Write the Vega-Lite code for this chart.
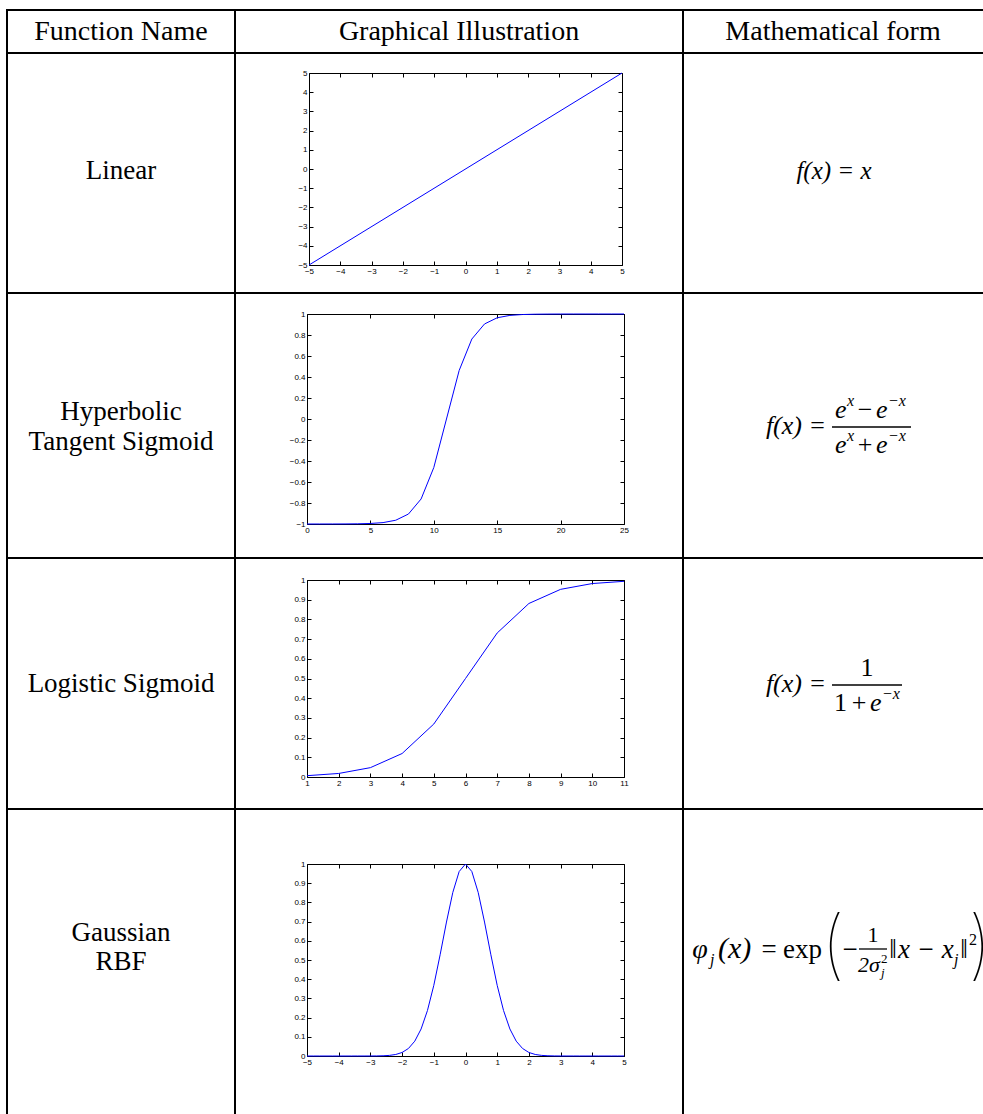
{
  "$schema": "https://vega.github.io/schema/vega-lite/v6.json",
  "padding": {"left": 6, "top": 9, "right": 0, "bottom": 0},
  "background": "white",
  "spacing": 0,
  "bounds": "flush",
  "columns": 3,
  "datasets": {
    "linear": [{"x": -5, "y": -5}, {"x": 5, "y": 5}],
    "tanh": [
      {"x": 0, "y": -0.99997}, {"x": 1, "y": -0.99991}, {"x": 2, "y": -0.99975}, {"x": 3, "y": -0.99933},
      {"x": 4, "y": -0.99818}, {"x": 5, "y": -0.99505}, {"x": 6, "y": -0.98661}, {"x": 7, "y": -0.96403},
      {"x": 8, "y": -0.90515}, {"x": 9, "y": -0.76159}, {"x": 10, "y": -0.46212}, {"x": 11, "y": 0},
      {"x": 12, "y": 0.46212}, {"x": 13, "y": 0.76159}, {"x": 14, "y": 0.90515}, {"x": 15, "y": 0.96403},
      {"x": 16, "y": 0.98661}, {"x": 17, "y": 0.99505}, {"x": 18, "y": 0.99818}, {"x": 19, "y": 0.99933},
      {"x": 20, "y": 0.99975}, {"x": 21, "y": 0.99991}, {"x": 22, "y": 0.99997}, {"x": 23, "y": 0.99999},
      {"x": 24, "y": 1}, {"x": 25, "y": 1}
    ],
    "logistic": [
      {"x": 1, "y": 0.00669}, {"x": 2, "y": 0.01799}, {"x": 3, "y": 0.04743}, {"x": 4, "y": 0.1192},
      {"x": 5, "y": 0.26894}, {"x": 6, "y": 0.5}, {"x": 7, "y": 0.73106}, {"x": 8, "y": 0.8808},
      {"x": 9, "y": 0.95257}, {"x": 10, "y": 0.98201}, {"x": 11, "y": 0.99331}
    ],
    "gaussian": [
      {"x": -5, "y": 0}, {"x": -4.8, "y": 0}, {"x": -4.6, "y": 0}, {"x": -4.4, "y": 0}, {"x": -4.2, "y": 0},
      {"x": -4, "y": 0.0000001}, {"x": -3.8, "y": 0.0000005}, {"x": -3.6, "y": 0.0000024}, {"x": -3.4, "y": 0.0000096},
      {"x": -3.2, "y": 0.0000357}, {"x": -3, "y": 0.0001234}, {"x": -2.8, "y": 0.0003937}, {"x": -2.6, "y": 0.0011592},
      {"x": -2.4, "y": 0.0031511}, {"x": -2.2, "y": 0.0079071}, {"x": -2, "y": 0.0183156}, {"x": -1.8, "y": 0.0391639},
      {"x": -1.6, "y": 0.0773047}, {"x": -1.4, "y": 0.1408584}, {"x": -1.2, "y": 0.2369278}, {"x": -1, "y": 0.3678794},
      {"x": -0.8, "y": 0.5272924}, {"x": -0.6, "y": 0.6976763}, {"x": -0.4, "y": 0.8521438}, {"x": -0.2, "y": 0.9607894},
      {"x": 0, "y": 1},
      {"x": 0.2, "y": 0.9607894}, {"x": 0.4, "y": 0.8521438}, {"x": 0.6, "y": 0.6976763}, {"x": 0.8, "y": 0.5272924},
      {"x": 1, "y": 0.3678794}, {"x": 1.2, "y": 0.2369278}, {"x": 1.4, "y": 0.1408584}, {"x": 1.6, "y": 0.0773047},
      {"x": 1.8, "y": 0.0391639}, {"x": 2, "y": 0.0183156}, {"x": 2.2, "y": 0.0079071}, {"x": 2.4, "y": 0.0031511},
      {"x": 2.6, "y": 0.0011592}, {"x": 2.8, "y": 0.0003937}, {"x": 3, "y": 0.0001234}, {"x": 3.2, "y": 0.0000357},
      {"x": 3.4, "y": 0.0000096}, {"x": 3.6, "y": 0.0000024}, {"x": 3.8, "y": 0.0000005}, {"x": 4, "y": 0.0000001},
      {"x": 4.2, "y": 0}, {"x": 4.4, "y": 0}, {"x": 4.6, "y": 0}, {"x": 4.8, "y": 0}, {"x": 5, "y": 0}
    ]
  },
  "concat": [
    {"width": 228, "height": 43, "data": {"values": [{"t": "Function Name"}]},
     "mark": {"type": "text", "baseline": "middle", "fontSize": 28},
     "encoding": {"text": {"field": "t"},
       "x": {"datum": 114, "type": "quantitative", "scale": {"domain": [0, 228], "nice": false, "zero": false}, "axis": null},
       "y": {"datum": 22, "type": "quantitative", "scale": {"domain": [43, 0], "nice": false, "zero": false}, "axis": null}}},
    {"width": 448, "height": 43, "data": {"values": [{"t": "Graphical Illustration"}]},
     "mark": {"type": "text", "baseline": "middle", "fontSize": 28},
     "encoding": {"text": {"field": "t"},
       "x": {"datum": 224, "type": "quantitative", "scale": {"domain": [0, 448], "nice": false, "zero": false}, "axis": null},
       "y": {"datum": 22, "type": "quantitative", "scale": {"domain": [43, 0], "nice": false, "zero": false}, "axis": null}}},
    {"width": 320, "height": 43, "data": {"values": [{"t": "Mathematical form"}]},
     "mark": {"type": "text", "baseline": "middle", "fontSize": 28},
     "encoding": {"text": {"field": "t"},
       "x": {"datum": 150, "type": "quantitative", "scale": {"domain": [0, 320], "nice": false, "zero": false}, "axis": null},
       "y": {"datum": 22, "type": "quantitative", "scale": {"domain": [43, 0], "nice": false, "zero": false}, "axis": null}}},

    {"width": 228, "height": 240, "data": {"values": [{"t": "Linear"}]},
     "mark": {"type": "text", "baseline": "middle", "fontSize": 27},
     "encoding": {"text": {"field": "t"},
       "x": {"datum": 114, "type": "quantitative", "scale": {"domain": [0, 228], "nice": false, "zero": false}, "axis": null},
       "y": {"datum": 118, "type": "quantitative", "scale": {"domain": [240, 0], "nice": false, "zero": false}, "axis": null}}},
    {"width": 448, "height": 240, "data": {"name": "linear"},
     "layer": [
       {"mark": {"type": "line", "color": "#0000ff", "strokeWidth": 1},
        "encoding": {
          "x": {"field": "x", "type": "quantitative", "scale": {"domain": [-5, 5], "range": [74, 387], "nice": false, "zero": false},
                "axis": {"orient": "bottom", "offset": -28, "title": null, "format": "~g", "values": [-5, -4, -3, -2, -1, 0, 1, 2, 3, 4, 5]}},
          "y": {"field": "y", "type": "quantitative", "scale": {"domain": [-5, 5], "range": [212, 20], "nice": false, "zero": false},
                "axis": {"orient": "left", "offset": -74, "title": null, "format": "~g", "values": [-5, -4, -3, -2, -1, 0, 1, 2, 3, 4, 5]}}}},
       {"mark": {"type": "line", "opacity": 0},
        "encoding": {
          "x": {"field": "x", "type": "quantitative", "scale": {"domain": [-5, 5], "range": [74, 387], "nice": false, "zero": false},
                "axis": {"orient": "top", "offset": -20, "title": null, "labels": false, "values": [-5, -4, -3, -2, -1, 0, 1, 2, 3, 4, 5]}},
          "y": {"field": "y", "type": "quantitative", "scale": {"domain": [-5, 5], "range": [212, 20], "nice": false, "zero": false},
                "axis": {"orient": "right", "offset": -61, "title": null, "labels": false, "values": [-5, -4, -3, -2, -1, 0, 1, 2, 3, 4, 5]}}}}
     ],
     "resolve": {"axis": {"x": "independent", "y": "independent"}}},
    {"width": 320, "height": 240, "data": {"values": [{"f": "linear"}]},
     "layer": [
       {"mark": {"type": "text", "text": "f(x) = x", "fontStyle": "italic", "fontSize": 25},
        "encoding": {
          "x": {"datum": 151, "type": "quantitative", "scale": {"domain": [0, 320], "nice": false, "zero": false}, "axis": null},
          "y": {"datum": 126, "type": "quantitative", "scale": {"domain": [240, 0], "nice": false, "zero": false}, "axis": null}}}
     ]},

    {"width": 228, "height": 265, "data": {"values": [{"t": "Hyperbolic\nTangent Sigmoid"}]},
     "mark": {"type": "text", "baseline": "middle", "fontSize": 27, "lineBreak": "\n", "lineHeight": 30},
     "encoding": {"text": {"field": "t"},
       "x": {"datum": 114, "type": "quantitative", "scale": {"domain": [0, 228], "nice": false, "zero": false}, "axis": null},
       "y": {"datum": 119, "type": "quantitative", "scale": {"domain": [265, 0], "nice": false, "zero": false}, "axis": null}}},
    {"width": 448, "height": 265, "data": {"name": "tanh"},
     "layer": [
       {"mark": {"type": "line", "color": "#0000ff", "strokeWidth": 1},
        "encoding": {
          "x": {"field": "x", "type": "quantitative", "scale": {"domain": [0, 25], "range": [72, 389], "nice": false, "zero": false},
                "axis": {"orient": "bottom", "offset": -34, "title": null, "format": "~g", "values": [0, 5, 10, 15, 20, 25]}},
          "y": {"field": "y", "type": "quantitative", "scale": {"domain": [-1, 1], "range": [231, 21], "nice": false, "zero": false},
                "axis": {"orient": "left", "offset": -72, "title": null, "format": "~g", "values": [-1, -0.8, -0.6, -0.4, -0.2, 0, 0.2, 0.4, 0.6, 0.8, 1]}}}},
       {"mark": {"type": "line", "opacity": 0},
        "encoding": {
          "x": {"field": "x", "type": "quantitative", "scale": {"domain": [0, 25], "range": [72, 389], "nice": false, "zero": false},
                "axis": {"orient": "top", "offset": -21, "title": null, "labels": false, "values": [0, 5, 10, 15, 20, 25]}},
          "y": {"field": "y", "type": "quantitative", "scale": {"domain": [-1, 1], "range": [231, 21], "nice": false, "zero": false},
                "axis": {"orient": "right", "offset": -59, "title": null, "labels": false, "values": [-1, -0.8, -0.6, -0.4, -0.2, 0, 0.2, 0.4, 0.6, 0.8, 1]}}}}
     ],
     "resolve": {"axis": {"x": "independent", "y": "independent"}}},
    {"width": 320, "height": 265, "data": {"values": [{"f": "tanh"}]},
     "encoding": {
       "x": {"datum": 0, "type": "quantitative", "scale": {"domain": [0, 320], "nice": false, "zero": false}, "axis": null}
     },
     "layer": [
       {"mark": {"type": "text", "text": "f(x) =", "fontStyle": "italic", "fontSize": 26, "align": "right"},
        "encoding": {"x": {"datum": 143, "type": "quantitative", "axis": null}, "y": {"datum": 141, "type": "quantitative", "scale": {"domain": [265, 0], "nice": false, "zero": false}, "axis": null}}},
       {"mark": {"type": "text", "text": "e", "fontStyle": "italic", "fontSize": 26, "align": "left"},
        "encoding": {"x": {"datum": 152, "type": "quantitative", "axis": null}, "y": {"datum": 125, "type": "quantitative", "axis": null}}},
       {"mark": {"type": "text", "text": "x", "fontStyle": "italic", "fontSize": 16, "align": "left"},
        "encoding": {"x": {"datum": 164, "type": "quantitative", "axis": null}, "y": {"datum": 113, "type": "quantitative", "axis": null}}},
       {"mark": {"type": "text", "text": "−", "fontSize": 26, "align": "center"},
        "encoding": {"x": {"datum": 182, "type": "quantitative", "axis": null}, "y": {"datum": 125, "type": "quantitative", "axis": null}}},
       {"mark": {"type": "text", "text": "e", "fontStyle": "italic", "fontSize": 26, "align": "left"},
        "encoding": {"x": {"datum": 193, "type": "quantitative", "axis": null}, "y": {"datum": 125, "type": "quantitative", "axis": null}}},
       {"mark": {"type": "text", "text": "−x", "fontStyle": "italic", "fontSize": 16, "align": "left"},
        "encoding": {"x": {"datum": 205, "type": "quantitative", "axis": null}, "y": {"datum": 113, "type": "quantitative", "axis": null}}},
       {"mark": {"type": "rule", "strokeWidth": 1.3, "color": "black"},
        "encoding": {"x": {"datum": 149, "type": "quantitative", "axis": null}, "x2": {"datum": 228}, "y": {"datum": 134, "type": "quantitative", "axis": null}}},
       {"mark": {"type": "text", "text": "e", "fontStyle": "italic", "fontSize": 26, "align": "left"},
        "encoding": {"x": {"datum": 152, "type": "quantitative", "axis": null}, "y": {"datum": 160, "type": "quantitative", "axis": null}}},
       {"mark": {"type": "text", "text": "x", "fontStyle": "italic", "fontSize": 16, "align": "left"},
        "encoding": {"x": {"datum": 164, "type": "quantitative", "axis": null}, "y": {"datum": 148, "type": "quantitative", "axis": null}}},
       {"mark": {"type": "text", "text": "+", "fontSize": 26, "align": "center"},
        "encoding": {"x": {"datum": 182, "type": "quantitative", "axis": null}, "y": {"datum": 160, "type": "quantitative", "axis": null}}},
       {"mark": {"type": "text", "text": "e", "fontStyle": "italic", "fontSize": 26, "align": "left"},
        "encoding": {"x": {"datum": 193, "type": "quantitative", "axis": null}, "y": {"datum": 160, "type": "quantitative", "axis": null}}},
       {"mark": {"type": "text", "text": "−x", "fontStyle": "italic", "fontSize": 16, "align": "left"},
        "encoding": {"x": {"datum": 205, "type": "quantitative", "axis": null}, "y": {"datum": 148, "type": "quantitative", "axis": null}}}
     ]},

    {"width": 228, "height": 251, "data": {"values": [{"t": "Logistic Sigmoid"}]},
     "mark": {"type": "text", "baseline": "middle", "fontSize": 27},
     "encoding": {"text": {"field": "t"},
       "x": {"datum": 114, "type": "quantitative", "scale": {"domain": [0, 228], "nice": false, "zero": false}, "axis": null},
       "y": {"datum": 126, "type": "quantitative", "scale": {"domain": [251, 0], "nice": false, "zero": false}, "axis": null}}},
    {"width": 448, "height": 251, "data": {"name": "logistic"},
     "layer": [
       {"mark": {"type": "line", "color": "#0000ff", "strokeWidth": 1},
        "encoding": {
          "x": {"field": "x", "type": "quantitative", "scale": {"domain": [1, 11], "range": [72, 389], "nice": false, "zero": false},
                "axis": {"orient": "bottom", "offset": -32, "title": null, "format": "~g", "values": [1, 2, 3, 4, 5, 6, 7, 8, 9, 10, 11]}},
          "y": {"field": "y", "type": "quantitative", "scale": {"domain": [0, 1], "range": [219, 22], "nice": false, "zero": false},
                "axis": {"orient": "left", "offset": -72, "title": null, "format": "~g", "values": [0, 0.1, 0.2, 0.3, 0.4, 0.5, 0.6, 0.7, 0.8, 0.9, 1]}}}},
       {"mark": {"type": "line", "opacity": 0},
        "encoding": {
          "x": {"field": "x", "type": "quantitative", "scale": {"domain": [1, 11], "range": [72, 389], "nice": false, "zero": false},
                "axis": {"orient": "top", "offset": -22, "title": null, "labels": false, "values": [1, 2, 3, 4, 5, 6, 7, 8, 9, 10, 11]}},
          "y": {"field": "y", "type": "quantitative", "scale": {"domain": [0, 1], "range": [219, 22], "nice": false, "zero": false},
                "axis": {"orient": "right", "offset": -59, "title": null, "labels": false, "values": [0, 0.1, 0.2, 0.3, 0.4, 0.5, 0.6, 0.7, 0.8, 0.9, 1]}}}}
     ],
     "resolve": {"axis": {"x": "independent", "y": "independent"}}},
    {"width": 320, "height": 251, "data": {"values": [{"f": "logistic"}]},
     "encoding": {
       "x": {"datum": 0, "type": "quantitative", "scale": {"domain": [0, 320], "nice": false, "zero": false}, "axis": null}
     },
     "layer": [
       {"mark": {"type": "text", "text": "f(x) =", "fontStyle": "italic", "fontSize": 26, "align": "right"},
        "encoding": {"x": {"datum": 143, "type": "quantitative", "axis": null}, "y": {"datum": 134, "type": "quantitative", "scale": {"domain": [251, 0], "nice": false, "zero": false}, "axis": null}}},
       {"mark": {"type": "text", "text": "1", "fontSize": 26, "align": "center"},
        "encoding": {"x": {"datum": 184, "type": "quantitative", "axis": null}, "y": {"datum": 118, "type": "quantitative", "axis": null}}},
       {"mark": {"type": "rule", "strokeWidth": 1.3, "color": "black"},
        "encoding": {"x": {"datum": 149, "type": "quantitative", "axis": null}, "x2": {"datum": 219}, "y": {"datum": 127, "type": "quantitative", "axis": null}}},
       {"mark": {"type": "text", "text": "1", "fontSize": 26, "align": "left"},
        "encoding": {"x": {"datum": 151, "type": "quantitative", "axis": null}, "y": {"datum": 153, "type": "quantitative", "axis": null}}},
       {"mark": {"type": "text", "text": "+", "fontSize": 26, "align": "center"},
        "encoding": {"x": {"datum": 176, "type": "quantitative", "axis": null}, "y": {"datum": 153, "type": "quantitative", "axis": null}}},
       {"mark": {"type": "text", "text": "e", "fontStyle": "italic", "fontSize": 26, "align": "left"},
        "encoding": {"x": {"datum": 187, "type": "quantitative", "axis": null}, "y": {"datum": 153, "type": "quantitative", "axis": null}}},
       {"mark": {"type": "text", "text": "−x", "fontStyle": "italic", "fontSize": 16, "align": "left"},
        "encoding": {"x": {"datum": 199, "type": "quantitative", "axis": null}, "y": {"datum": 141, "type": "quantitative", "axis": null}}}
     ]},

    {"width": 228, "height": 320, "data": {"values": [{"t": "Gaussian\nRBF"}]},
     "mark": {"type": "text", "baseline": "middle", "fontSize": 27, "lineBreak": "\n", "lineHeight": 29},
     "encoding": {"text": {"field": "t"},
       "x": {"datum": 114, "type": "quantitative", "scale": {"domain": [0, 228], "nice": false, "zero": false}, "axis": null},
       "y": {"datum": 124, "type": "quantitative", "scale": {"domain": [320, 0], "nice": false, "zero": false}, "axis": null}}},
    {"width": 448, "height": 320, "data": {"name": "gaussian"},
     "layer": [
       {"mark": {"type": "line", "color": "#0000ff", "strokeWidth": 1},
        "encoding": {
          "x": {"field": "x", "type": "quantitative", "scale": {"domain": [-5, 5], "range": [72, 389], "nice": false, "zero": false},
                "axis": {"orient": "bottom", "offset": -73, "title": null, "format": "~g", "values": [-5, -4, -3, -2, -1, 0, 1, 2, 3, 4, 5]}},
          "y": {"field": "y", "type": "quantitative", "scale": {"domain": [0, 1], "range": [247, 55], "nice": false, "zero": false},
                "axis": {"orient": "left", "offset": -72, "title": null, "format": "~g", "values": [0, 0.1, 0.2, 0.3, 0.4, 0.5, 0.6, 0.7, 0.8, 0.9, 1]}}}},
       {"mark": {"type": "line", "opacity": 0},
        "encoding": {
          "x": {"field": "x", "type": "quantitative", "scale": {"domain": [-5, 5], "range": [72, 389], "nice": false, "zero": false},
                "axis": {"orient": "top", "offset": -55, "title": null, "labels": false, "values": [-5, -4, -3, -2, -1, 0, 1, 2, 3, 4, 5]}},
          "y": {"field": "y", "type": "quantitative", "scale": {"domain": [0, 1], "range": [247, 55], "nice": false, "zero": false},
                "axis": {"orient": "right", "offset": -59, "title": null, "labels": false, "values": [0, 0.1, 0.2, 0.3, 0.4, 0.5, 0.6, 0.7, 0.8, 0.9, 1]}}}}
     ],
     "resolve": {"axis": {"x": "independent", "y": "independent"}}},
    {"width": 320, "height": 320, "data": {"values": [{"f": "gaussian"}]},
     "encoding": {
       "x": {"datum": 0, "type": "quantitative", "scale": {"domain": [0, 320], "nice": false, "zero": false}, "axis": null}
     },
     "layer": [
       {"mark": {"type": "text", "text": "φ", "fontStyle": "italic", "fontSize": 28, "align": "center"},
        "encoding": {"x": {"datum": 17, "type": "quantitative", "axis": null}, "y": {"datum": 149, "type": "quantitative", "scale": {"domain": [320, 0], "nice": false, "zero": false}, "axis": null}}},
       {"mark": {"type": "text", "text": "j", "fontStyle": "italic", "fontSize": 16, "align": "left"},
        "encoding": {"x": {"datum": 27, "type": "quantitative", "axis": null}, "y": {"datum": 156, "type": "quantitative", "axis": null}}},
       {"mark": {"type": "text", "text": "(x)", "fontStyle": "italic", "fontSize": 30, "align": "left"},
        "encoding": {"x": {"datum": 35, "type": "quantitative", "axis": null}, "y": {"datum": 149, "type": "quantitative", "axis": null}}},
       {"mark": {"type": "text", "text": "=", "fontSize": 27, "align": "center"},
        "encoding": {"x": {"datum": 86, "type": "quantitative", "axis": null}, "y": {"datum": 149, "type": "quantitative", "axis": null}}},
       {"mark": {"type": "text", "text": "exp", "fontSize": 27, "align": "left"},
        "encoding": {"x": {"datum": 100, "type": "quantitative", "axis": null}, "y": {"datum": 149, "type": "quantitative", "axis": null}}},
       {"mark": {"type": "text", "text": "(", "fontSize": 76, "fontWeight": 100, "align": "center", "font": "Inter, Lato, Liberation Sans Narrow"},
        "encoding": {"x": {"datum": 150, "type": "quantitative", "axis": null}, "y": {"datum": 162, "type": "quantitative", "axis": null}}},
       {"mark": {"type": "text", "text": "−", "fontSize": 27, "align": "center"},
        "encoding": {"x": {"datum": 167, "type": "quantitative", "axis": null}, "y": {"datum": 149, "type": "quantitative", "axis": null}}},
       {"mark": {"type": "rule", "strokeWidth": 1.3, "color": "black"},
        "encoding": {"x": {"datum": 176, "type": "quantitative", "axis": null}, "x2": {"datum": 204}, "y": {"datum": 140, "type": "quantitative", "axis": null}}},
       {"mark": {"type": "text", "text": "1", "fontSize": 22, "align": "center"},
        "encoding": {"x": {"datum": 190, "type": "quantitative", "axis": null}, "y": {"datum": 133, "type": "quantitative", "axis": null}}},
       {"mark": {"type": "text", "text": "2σ", "fontStyle": "italic", "fontSize": 22, "align": "center"},
        "encoding": {"x": {"datum": 186, "type": "quantitative", "axis": null}, "y": {"datum": 163, "type": "quantitative", "axis": null}}},
       {"mark": {"type": "text", "text": "2", "fontSize": 13, "align": "left"},
        "encoding": {"x": {"datum": 198, "type": "quantitative", "axis": null}, "y": {"datum": 154, "type": "quantitative", "axis": null}}},
       {"mark": {"type": "text", "text": "j", "fontStyle": "italic", "fontSize": 13, "align": "left"},
        "encoding": {"x": {"datum": 198, "type": "quantitative", "axis": null}, "y": {"datum": 168, "type": "quantitative", "axis": null}}},
       {"mark": {"type": "text", "text": "‖", "fontSize": 27, "align": "center"},
        "encoding": {"x": {"datum": 210, "type": "quantitative", "axis": null}, "y": {"datum": 149, "type": "quantitative", "axis": null}}},
       {"mark": {"type": "text", "text": "x − x", "fontStyle": "italic", "fontSize": 27, "align": "left"},
        "encoding": {"x": {"datum": 215, "type": "quantitative", "axis": null}, "y": {"datum": 149, "type": "quantitative", "axis": null}}},
       {"mark": {"type": "text", "text": "j", "fontStyle": "italic", "fontSize": 16, "align": "left"},
        "encoding": {"x": {"datum": 271, "type": "quantitative", "axis": null}, "y": {"datum": 156, "type": "quantitative", "axis": null}}},
       {"mark": {"type": "text", "text": "‖", "fontSize": 27, "align": "center"},
        "encoding": {"x": {"datum": 281, "type": "quantitative", "axis": null}, "y": {"datum": 149, "type": "quantitative", "axis": null}}},
       {"mark": {"type": "text", "text": "2", "fontSize": 16, "align": "left"},
        "encoding": {"x": {"datum": 286, "type": "quantitative", "axis": null}, "y": {"datum": 136, "type": "quantitative", "axis": null}}},
       {"mark": {"type": "text", "text": ")", "fontSize": 76, "fontWeight": 100, "align": "center", "font": "Inter, Lato, Liberation Sans Narrow"},
        "encoding": {"x": {"datum": 297, "type": "quantitative", "axis": null}, "y": {"datum": 162, "type": "quantitative", "axis": null}}}
     ]}
  ],
  "config": {
    "view": {"stroke": "black", "strokeWidth": 2},
    "text": {"font": "Liberation Serif", "fontSize": 26, "baseline": "alphabetic", "color": "black"},
    "axis": {
      "grid": false, "domainColor": "black", "domainWidth": 1, "tickColor": "black", "tickWidth": 1, "tickSize": -4,
      "labelFont": "Liberation Sans", "labelFontSize": 8, "labelColor": "#000", "labelPadding": 6,
      "labelOverlap": false, "labelFlush": false, "labelBound": false
    }
  }
}
